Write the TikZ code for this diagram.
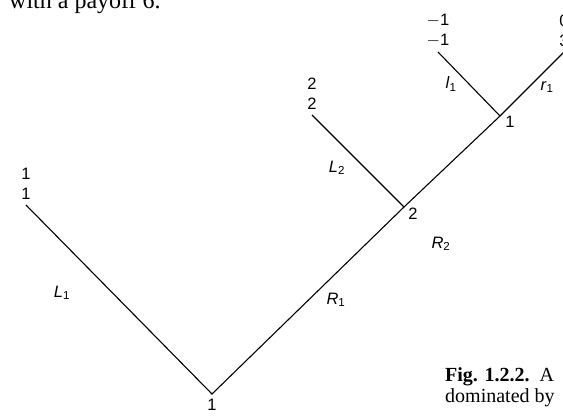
\documentclass[tikz,border=0pt]{standalone}
\usepackage{fontspec}
\setmainfont{Liberation Serif}
\setsansfont{Liberation Sans}
\begin{document}
\begin{tikzpicture}[x=1pt,y=-1pt, every node/.style={font=\sffamily\fontsize{16.5}{20}\selectfont, inner sep=1pt},
    payoff/.style={align=center, anchor=south, yshift=4pt}, branch/.style={line width=1.1pt}]
        \useasboundingbox (0,0) rectangle (563,417);
        \clip (0,0) rectangle (563,417);
        % text of the page around the figure
        \node[font=\rmfamily\fontsize{24}{24}\selectfont, anchor=base west] (txt) at (8,9) {with a payoff 6.};
        \node[font=\rmfamily\fontsize{20}{20}\selectfont, anchor=base west] (capa) at (444,381) {\textbf{Fig. 1.2.2.}\ \ A};
        \node[font=\rmfamily\fontsize{20}{20}\selectfont, anchor=base west] (capb) at (444,402) {dominated by};
        % tree
        \coordinate (root) at (212,394);
        \coordinate (two) at (404,207);
        \coordinate (one) at (500,116);
        \coordinate (leafA) at (26,205);
        \coordinate (leafB) at (312,115);
        \coordinate (leafC) at (438,52);
        \coordinate (leafD) at (564,52);
        \draw[branch] (leafA) -- (root) -- (two) -- (one) -- (leafD);
        \draw[branch] (two) -- (leafB);
        \draw[branch] (one) -- (leafC);
        \node[anchor=north] (lroot) at (212,398) {1};
        \node (ltwo) at (413,214) {2};
        \node (lone) at (510,122) {1};
        \node[payoff] (pA) at (leafA) {1\\1};
        \node[payoff] (pB) at (leafB) {2\\2};
        \node[payoff] (pC) at (leafC) {$-$1\\$-$1};
        \node[payoff] (pD) at (leafD) {0\\3};
        \node (eL1) at (62,293) {\textit{L}\textsubscript{1}};
        \node (eR1) at (336,300) {\textit{R}\textsubscript{1}};
        \node (eL2) at (337,168) {\textit{L}\textsubscript{2}};
        \node (eR2) at (441,244) {\textit{R}\textsubscript{2}};
        \node (el1) at (451,84) {\textit{l}\textsubscript{1}};
        \node (er1) at (547,87) {\textit{r}\textsubscript{1}};
    \end{tikzpicture}
\end{document}
